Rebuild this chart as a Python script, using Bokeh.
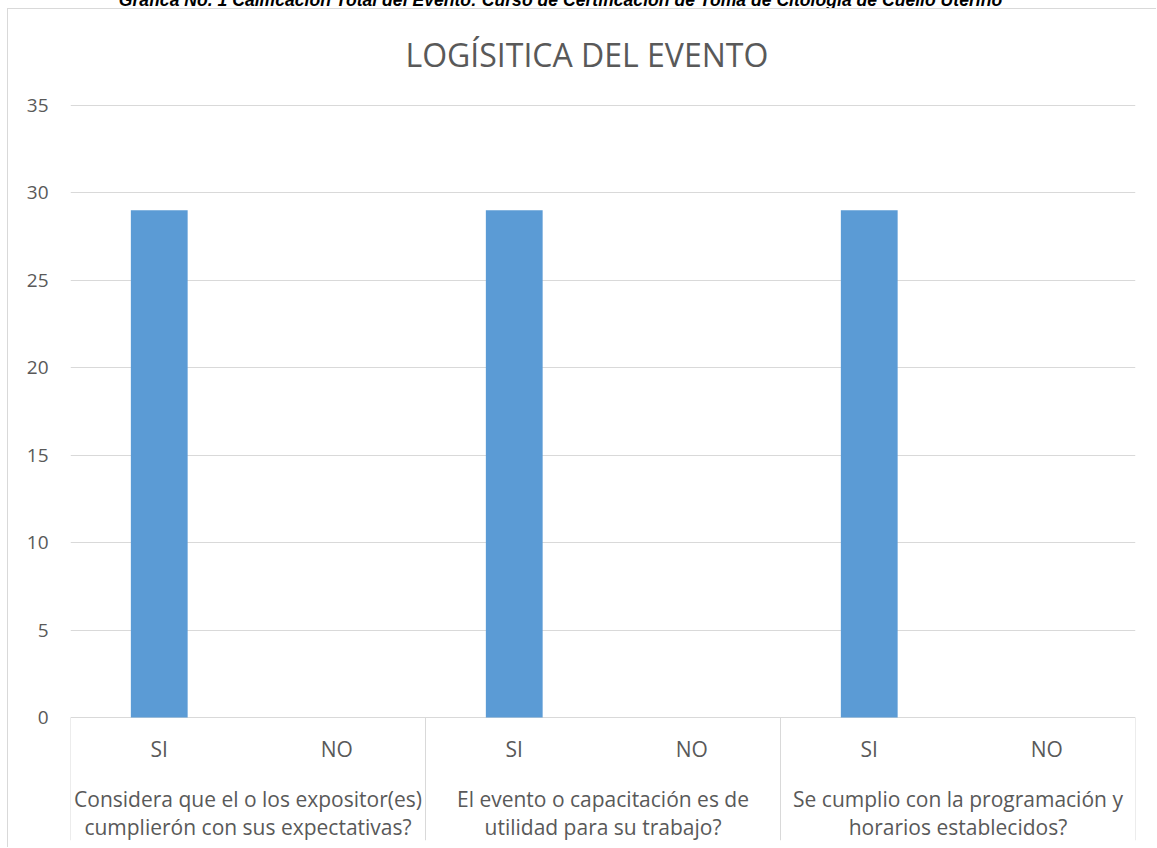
from bokeh.plotting import figure
from bokeh.models import FactorRange, Range1d, FixedTicker, ColumnDataSource, Title, Div, Spacer
from bokeh.layouts import column, row
from bokeh.core.properties import value
from bokeh.embed import file_html
from bokeh.resources import INLINE

# ---- data ----
caption = ("Grafica No. 1 Calificación Total del Evento: Curso de Certificación "
           "de Toma de Citología de Cuello Uterino")
questions = [
    "Considera que el o los expositor(es)\ncumplierón con sus expectativas?",
    "El evento o capacitación es de\nutilidad para su trabajo?",
    "Se cumplio con la programación y\nhorarios establecidos?",
]
answers = ["SI", "NO"]
counts = [29, 0, 29, 0, 29, 0]
y_ticks = [0, 5, 10, 15, 20, 25, 30, 35]
chart_title = "LOGÍSITICA DEL EVENTO"

FONT = "Open Sans"
TXT = "#595959"
GRID = "#d9d9d9"

factors = [(q, a) for q in questions for a in answers]

x_range = FactorRange(*factors, group_padding=0, factor_padding=0, range_padding=0)
y_range = Range1d(-7.03, 35.51)

p = figure(width=1149, height=839, x_range=x_range, y_range=y_range,
           output_backend="svg", toolbar_location=None, x_axis_location=None,
           min_border_left=62, min_border_right=22, min_border_top=87, min_border_bottom=8)
p.title = Title(text=chart_title, align="left", offset=335,
                text_font=FONT, text_font_size="32px", text_font_style="normal",
                text_color=TXT, standoff=42)
p.outline_line_color = None
p.background_fill_color = "white"
p.border_fill_color = "white"
p.styles = {"border-left": "1px solid #d9d9d9", "border-top": "1px solid #d9d9d9"}

yax = p.yaxis[0]
yax.ticker = FixedTicker(ticks=y_ticks)
yax.axis_line_color = None
yax.major_tick_line_color = None
yax.minor_tick_line_color = None
yax.major_tick_out = 0
yax.major_tick_in = 0
yax.major_label_text_font = FONT
yax.major_label_text_font_size = "19px"
yax.major_label_text_color = TXT
yax.major_label_standoff = 22

p.xgrid.grid_line_color = None
p.ygrid.ticker = FixedTicker(ticks=y_ticks)
p.ygrid.grid_line_color = GRID
p.ygrid.grid_line_width = 1

src = ColumnDataSource(dict(x=factors, top=counts))
p.vbar(x="x", top="top", width=0.32, source=src, fill_color="#5B9BD5", line_color=None)

# category separators (derived from factor positions)
bounds = [(q, answers[0], -0.5) for q in questions] + [(questions[-1], answers[-1], 0.5)]
p.segment(x0=bounds, y0=[0] * len(bounds), x1=bounds, y1=[y_range.start] * len(bounds),
          line_color=GRID, line_width=1)

# sub-category labels
p.text(x=factors, y=[0] * len(factors), text=[a for _, a in factors],
       text_font=value(FONT), text_font_size="21px", text_color=TXT,
       text_align="center", text_baseline="middle", y_offset=31)

# group labels
p.text(x=[(q, answers[0], 0.5) for q in questions], y=[0] * len(questions), text=questions,
       text_font=value(FONT), text_font_size="21px", text_color=TXT,
       text_align="center", text_baseline="middle", y_offset=95, text_line_height=1.0)

cap = Div(text=('<div style="position:absolute; top:-9px; left:-18px; width:1157px; '
                'white-space:nowrap; text-align:center; '
                'font-family:\'Liberation Sans\'; font-weight:bold; font-style:italic; '
                'font-size:17.6px; line-height:18px; color:#000;">' + caption + '</div>'),
          width=1157, height=8,
          styles={"overflow": "hidden", "height": "8px", "min-height": "0", "padding": "0", "margin": "0"})

layout = column(cap, row(Spacer(width=7, height=839), p, spacing=0), spacing=0)

open("out.html", "w").write(file_html(layout, INLINE))
